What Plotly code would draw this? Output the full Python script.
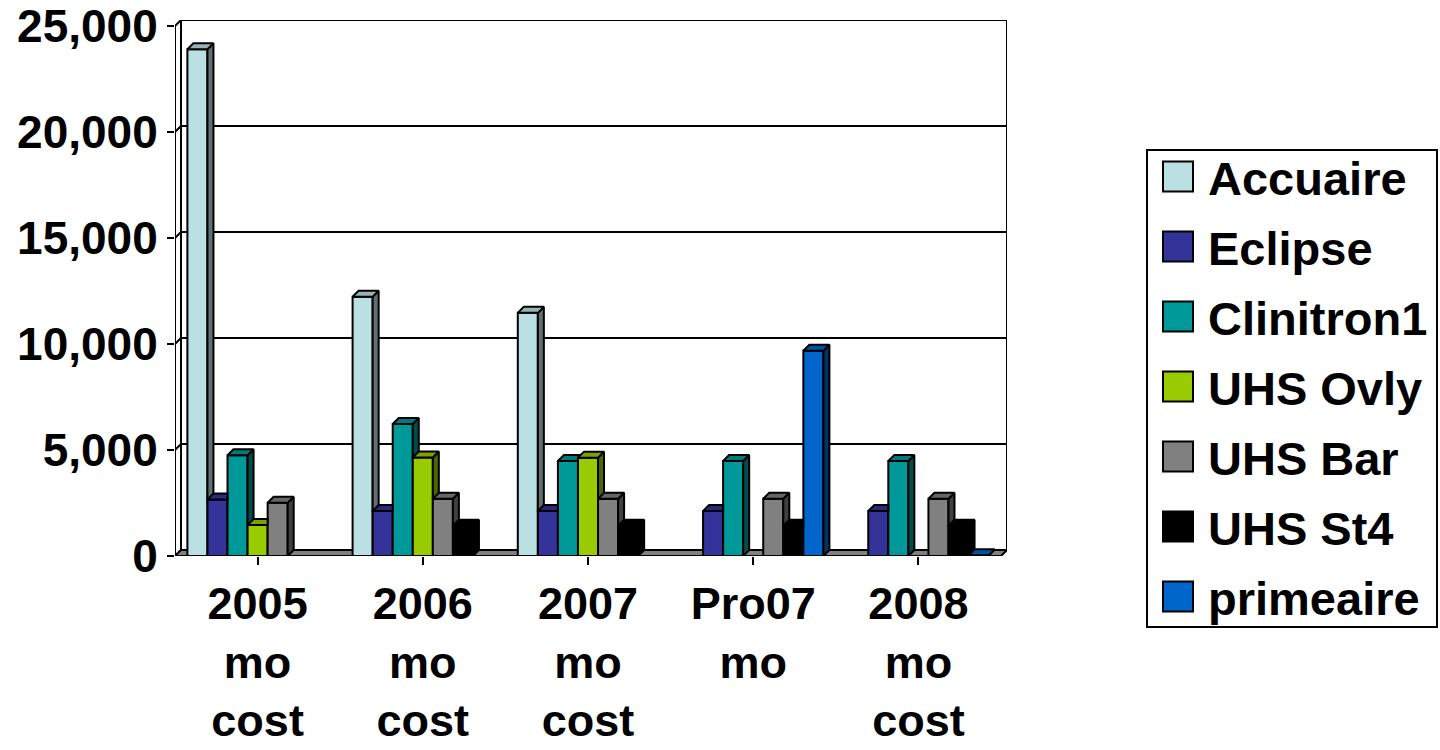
import plotly.graph_objects as go

# ---------------- data ----------------
cat_labels = ["2005<br>mo<br>cost", "2006<br>mo<br>cost", "2007<br>mo<br>cost",
              "Pro07<br>mo", "2008<br>mo<br>cost"]
series_names = ["Accuaire", "Eclipse", "Clinitron1", "UHS Ovly", "UHS Bar", "UHS St4", "primeaire"]
accuaire = [23900, 12230, 11470, 0, 0]
eclipse = [2670, 2120, 2120, 2120, 2120]
clinitron1 = [4750, 6230, 4480, 4480, 4480]
uhs_ovly = [1460, 4650, 4640, 0, 0]
uhs_bar = [2510, 2700, 2700, 2700, 2700]
uhs_st4 = [0, 1430, 1430, 1430, 1430]
primeaire = [0, 0, 0, 9680, 30]
series_values = [accuaire, eclipse, clinitron1, uhs_ovly, uhs_bar, uhs_st4, primeaire]
y_ticks = [0, 5000, 10000, 15000, 20000, 25000]

front_colors = ["#BBE0E3", "#333399", "#009999", "#99CC00", "#808080", "#000000", "#0066CC"]
top_colors = ["#96B3B6", "#29297A", "#007A7A", "#7AA300", "#666666", "#000000", "#0052A3"]
side_colors = ["#5E7072", "#1A1A4D", "#004D4D", "#4D6600", "#404040", "#000000", "#003366"]

# ---------------- geometry ----------------
W, H = 1440, 750
ML, MT, MB = 175, 20, 194
Y_MAX = 25000
n_cat = len(cat_labels)
n_ser = len(series_names)
front_w_px = 826.0
front_h_px = 530.0
DEPTH_PX = 6.0
dx = DEPTH_PX * n_cat / front_w_px
dy = DEPTH_PX * Y_MAX / front_h_px
plot_w = front_w_px + DEPTH_PX
plot_h = front_h_px + DEPTH_PX
MR = W - ML - plot_w
x_range = [-0.5, n_cat - 0.5 + dx]
y_range = [0, Y_MAX + dy]

BARGAP = 0.15
bw = (1 - BARGAP) / n_ser


def clip_above(poly, c):
    out = []
    n = len(poly)
    for i in range(n):
        p, q = poly[i], poly[(i + 1) % n]
        pin, qin = p[1] >= c, q[1] >= c
        if pin:
            out.append(p)
        if pin != qin:
            t = (c - p[1]) / (q[1] - p[1])
            out.append((p[0] + t * (q[0] - p[0]), c))
    return out


fig = go.Figure()

# front faces as real bars
for k, name in enumerate(series_names):
    vals = [v if v > 0 else None for v in series_values[k]]
    fig.add_trace(go.Bar(
        x=list(range(n_cat)), y=vals, name=name, showlegend=False,
        marker=dict(color=front_colors[k], line=dict(color="black", width=2)),
        hoverinfo="skip"))

# 3D side and top faces computed from the data
for k in range(n_ser):
    sx, sy, tx, ty = [], [], [], []
    for j in range(n_cat):
        v = series_values[k][j]
        if v <= 0:
            continue
        L = j - (1 - BARGAP) / 2 + k * bw
        R = L + bw
        v_next = series_values[k + 1][j] if k + 1 < n_ser else 0
        side = [(R, 0), (R + dx, dy), (R + dx, v + dy), (R, v)]
        if v_next > 0:
            side = clip_above(side, v_next)
        if len(side) >= 3:
            for p in side + [side[0]]:
                sx.append(p[0]); sy.append(p[1])
            sx.append(None); sy.append(None)
        if v_next >= v + dy:
            top = [(L, v), (R, v), (R, v + dy), (L + dx, v + dy)]
        elif v_next > v:
            c = v_next
            top = [(L, v), (R, v), (R, c), (R + dx * (c - v) / dy, c),
                   (R + dx, v + dy), (L + dx, v + dy)]
        else:
            top = [(L, v), (R, v), (R + dx, v + dy), (L + dx, v + dy)]
        for p in top + [top[0]]:
            tx.append(p[0]); ty.append(p[1])
        tx.append(None); ty.append(None)
    fig.add_trace(go.Scatter(x=sx, y=sy, mode="lines", fill="toself",
                             fillcolor=side_colors[k], line=dict(color="black", width=2),
                             showlegend=False, hoverinfo="skip"))
    fig.add_trace(go.Scatter(x=tx, y=ty, mode="lines", fill="toself",
                             fillcolor=top_colors[k], line=dict(color="black", width=2),
                             showlegend=False, hoverinfo="skip"))

# ---------------- walls, floor, gridlines ----------------
shapes = []
xl, xr = -0.5, n_cat - 0.5
shapes.append(dict(type="rect", xref="x", yref="y", x0=xl + dx, x1=xr + dx,
                   y0=dy, y1=Y_MAX + dy, line=dict(color="black", width=2),
                   fillcolor="white", layer="below"))
for v in y_ticks:
    if v > 0:
        shapes.append(dict(type="line", xref="x", yref="y", x0=xl + dx, x1=xr + dx,
                           y0=v + dy, y1=v + dy, line=dict(color="black", width=2),
                           layer="below"))
    shapes.append(dict(type="line", xref="x", yref="y", x0=xl, x1=xl + dx,
                       y0=v, y1=v + dy, line=dict(color="black", width=2), layer="below"))
shapes.append(dict(type="path", xref="x", yref="y",
                   path=f"M{xl},0 L{xr},0 L{xr + dx},{dy} L{xl + dx},{dy} Z",
                   fillcolor="#808080", line=dict(color="black", width=2), layer="below"))
shapes.append(dict(type="line", xref="x", yref="y", x0=xl, x1=xl, y0=0, y1=Y_MAX,
                   line=dict(color="black", width=2), layer="below"))
shapes.append(dict(type="line", xref="x", yref="y", x0=xl, x1=xr, y0=0, y1=0,
                   line=dict(color="black", width=2), layer="below"))

# ---------------- legend (drawn) ----------------
def px_x(p):
    return (p - ML) / plot_w


def px_y(p):
    return (H - MB - p) / plot_h


FONT = "Liberation Sans, Arial, sans-serif"
annotations = []
shapes.append(dict(type="rect", xref="paper", yref="paper",
                   x0=px_x(1147), x1=px_x(1437), y0=px_y(627), y1=px_y(150),
                   line=dict(color="black", width=2), fillcolor="white"))
for i, name in enumerate(series_names):
    cy = 176.5 + 70 * i
    shapes.append(dict(type="rect", xref="paper", yref="paper",
                       x0=px_x(1163), x1=px_x(1193), y0=px_y(cy + 15), y1=px_y(cy - 15),
                       line=dict(color="black", width=2), fillcolor=front_colors[i]))
    annotations.append(dict(xref="paper", yref="paper", x=px_x(1206), y=px_y(cy + 2),
                            xanchor="left", yanchor="middle", showarrow=False,
                            text=name, font=dict(family=FONT, size=47, color="black",
                                                 weight="bold")))

fig.update_layout(
    width=W, height=H, autosize=False,
    margin=dict(l=ML, r=MR, t=MT, b=MB, pad=0, autoexpand=False),
    paper_bgcolor="white", plot_bgcolor="white",
    barmode="group", bargap=BARGAP, bargroupgap=0,
    shapes=shapes, annotations=annotations, showlegend=False,
    font=dict(family=FONT, color="black"),
)
fig.update_xaxes(range=x_range, tickmode="array", tickvals=list(range(n_cat)),
                 ticktext=cat_labels, showgrid=False, zeroline=False, showline=False,
                 automargin=False,
                 ticks="outside", ticklen=8, tickwidth=2, tickcolor="black",
                 tickfont=dict(family=FONT, size=45, color="black", weight="bold"))
fig.update_yaxes(range=y_range, tickmode="array", tickvals=y_ticks,
                 ticktext=[f"{v:,}" for v in y_ticks], showgrid=False, zeroline=False,
                 showline=False, automargin=False,
                 ticks="outside", ticklen=7, tickwidth=2, tickcolor="black",
                 tickfont=dict(family=FONT, size=46, color="black", weight="bold"))

fig.write_html(
    "out.html",
    config={"displayModeBar": False},
    post_script="document.body.style.margin='0';document.body.style.overflow='hidden';",
)
